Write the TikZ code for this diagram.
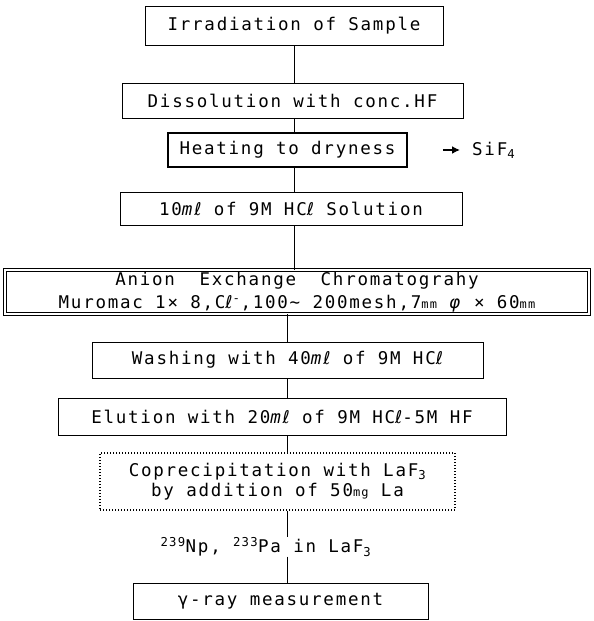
\documentclass[tikz,border=0pt]{standalone}
\usepackage{fontspec}
\usepackage{tikz}
\usetikzlibrary{arrows.meta}
\newfontfamily\flowfont[LetterSpace=10]{DejaVu Sans Mono}
\newfontfamily\ellfont{DejaVu Sans}
\newcommand{\litre}{{\ellfont ℓ}}
\newcommand{\ml}{\textit{m}{\ellfont\itshape ℓ}}
\newcommand{\smallunit}[1]{{\fontsize{12}{12}\selectfont #1}}
\tikzset{
  stepbox/.style ={draw,line width=1pt,inner sep=0pt,font=\flowfont\fontsize{17.5}{20}\selectfont},
  heatbox/.style ={stepbox,line width=1.8pt},
  colbox/.style  ={stepbox,double,double distance=2pt,line width=0.9pt,align=center,font=\flowfont\fontsize{17.5}{23}\selectfont},
  precbox/.style ={stepbox,dotted,line width=1.2pt,align=center},
  result/.style  ={font=\flowfont\fontsize{17.5}{20}\selectfont,inner sep=0pt},
  link/.style    ={line width=1pt},
  ar/.style      ={-{Latex[length=8pt,width=8pt]},line width=2.6pt},
}

\begin{document}
\begin{tikzpicture}[x=1pt,y=-1pt]
  \useasboundingbox[fill=white] (0,0) rectangle (594,621);
  \coordinate (spinetop) at (294,0);
  \coordinate (spinelow) at (287,0);
  % steps
  \node[stepbox,minimum width=298pt,minimum height=39pt] (irr) at (294,25.5) {Irradiation of Sample};
  \node[stepbox,minimum width=341pt,minimum height=35pt] (diss) at (292.5,100.5) {Dissolution with conc.HF};
  \node[heatbox,minimum width=239pt,minimum height=34pt] (heat) at (287.5,150) {Heating to dryness};
  \node[result,anchor=west] (sif) at (472,150) {SiF\textsubscript{4}};
  \node[stepbox,minimum width=342pt,minimum height=33pt] (hcl) at (291,208.5) {10\ml{} of 9M HC\litre{} Solution};
  \node[colbox,minimum width=584pt,minimum height=44pt] (anion) at (297,292)
    {Anion~~Exchange~~Chromatograhy\\Muromac 1× 8,C\litre\textsuperscript{-},100∼ 200mesh,7\smallunit{mm} \textit{φ} × 60\smallunit{mm}};
  \node[stepbox,minimum width=391pt,minimum height=36pt] (wash) at (287.5,360) {Washing with 40\ml{} of 9M HC\litre};
  \node[stepbox,minimum width=448pt,minimum height=37pt] (elut) at (282,416.5) {Elution with 20\ml{} of 9M HC\litre-5M HF};
  \node[precbox,minimum width=355pt,minimum height=57pt] (copre) at (277.5,481.5)
    {Coprecipitation with LaF\textsubscript{3}\\by addition of 50\smallunit{mg} La};
  \node[result,minimum height=18pt] (yield) at (266,547)
    {\textsuperscript{239}Np, \textsuperscript{233}Pa in LaF\textsubscript{3}};
  \node[stepbox,minimum width=295pt,minimum height=36pt] (gamma) at (280.5,601) {γ-ray measurement};
  % connections
  \foreach \a/\b in {irr/diss,diss/heat,heat/hcl,hcl/anion}
    \draw[link] (\a.south -| spinetop) -- (\b.north -| spinetop);
  \foreach \a/\b in {anion/wash,wash/elut,elut/copre,copre/yield,yield/gamma}
    \draw[link] (\a.south -| spinelow) -- (\b.north -| spinelow);
  \draw[ar,shorten <=35pt,shorten >=12pt] (heat.east) -- (sif.west);
\end{tikzpicture}
\end{document}
